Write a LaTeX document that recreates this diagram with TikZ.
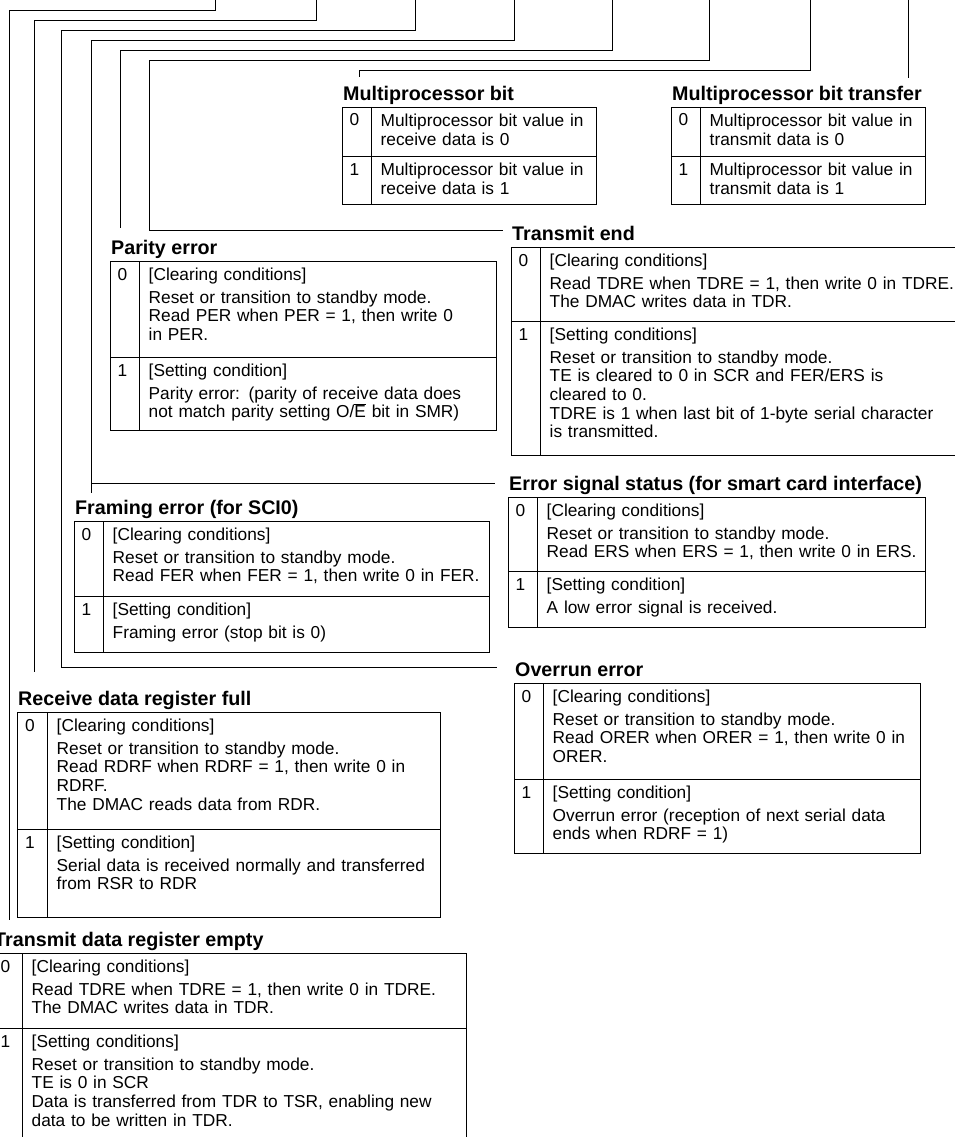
\documentclass[tikz,border=0pt]{standalone}
\usepackage{fontspec}
\setmainfont{Liberation Sans}
\newcommand{\bodyfont}{\fontsize{17.3}{18.6}\selectfont}
\newcommand{\ttlfont}{\fontsize{19.7}{22}\selectfont\bfseries}
\newcommand{\ovl}[1]{\ensuremath{\overline{\hbox{#1}}}}
\newcommand{\firststrut}{\rule{0pt}{14pt}}
\newcommand{\hgap}{\\[4.5pt]}
\tikzset{
  frame/.style={draw=black, line width=0.9pt},
  conn/.style={draw=black, line width=0.9pt},
  ttl/.style={font=\ttlfont, inner sep=0pt, anchor=base west},
  dig/.style={font=\bodyfont, inner sep=0pt, anchor=base},
  txt/.style={font=\bodyfont, inner sep=0pt, anchor=north west, text width=460pt, align=left},
}
% name, L, C, R, T, M, B, title
\newcommand{\regframe}[8]{%
  \node[ttl] (#1) at ({#2+1},{#5-6.5}) {#8};
  \draw[frame] (#2,#5) rectangle (#4,#7);
  \draw[frame] (#3,#5) -- (#3,#7);
  \draw[frame] (#2,#6) -- (#4,#6);
  \node[dig] (#1-d0) at ({#2+0.43*(#3-#2)},{#5+19}) {0};
  \node[dig] (#1-d1) at ({#2+0.43*(#3-#2)},{#6+19}) {1};
}
% name, C, T, M, text0, text1
\newcommand{\regrows}[6]{%
  \node[txt] (#1-r0) at ({#2+9.5},{#3+5}) {\firststrut#5};
  \node[txt] (#1-r1) at ({#2+9.5},{#4+5}) {\firststrut#6};
}
\begin{document}
\begin{tikzpicture}[x=1pt, y=-1pt]
\useasboundingbox (0,0) rectangle (955,1137);
\clip (0,0) rectangle (955,1137);

% ---- tables ----
\regframe{mpb}{342}{371}{596}{107}{156}{204}{Multiprocessor bit}
\regrows{mpb}{371}{107}{156}{Multiprocessor bit value in\\[0.6pt]receive data is 0}{Multiprocessor bit value in\\[0.6pt]receive data is 1}

\regframe{mpbt}{671}{700}{925}{107}{156}{204}{Multiprocessor bit transfer}
\regrows{mpbt}{700}{107}{156}{Multiprocessor bit value in\\[0.6pt]transmit data is 0}{Multiprocessor bit value in\\[0.6pt]transmit data is 1}

\regframe{per}{110}{139}{496}{261}{357}{430}{Parity error}
\regrows{per}{139}{261}{357}{[Clearing conditions]\hgap Reset or transition to standby mode.\\Read PER when PER = 1, then write 0\\in PER.}{[Setting condition]\hgap Parity error: (parity of receive data does\\not match parity setting O/\ovl{E} bit in SMR)}

\regframe{tend}{511}{540}{965}{247}{321}{455}{Transmit end}
\regrows{tend}{540}{247}{321}{[Clearing conditions]\hgap Read TDRE when TDRE = 1, then write 0 in TDRE.\\The DMAC writes data in TDR.}{[Setting conditions]\hgap Reset or transition to standby mode.\\TE is cleared to 0 in SCR and FER/ERS is\\cleared to 0.\\TDRE is 1 when last bit of 1-byte serial character\\is transmitted.}

\regframe{ers}{508}{537}{925}{497}{571}{627}{Error signal status (for smart card interface)}
\regrows{ers}{537}{497}{571}{[Clearing conditions]\hgap Reset or transition to standby mode.\\Read ERS when ERS = 1, then write 0 in ERS.}{[Setting condition]\hgap A low error signal is received.}

\regframe{fer}{74}{103}{489}{521}{596}{652}{Framing error (for SCI0)}
\regrows{fer}{103}{521}{596}{[Clearing conditions]\hgap Reset or transition to standby mode.\\Read FER when FER = 1, then write 0 in FER.}{[Setting condition]\hgap Framing error (stop bit is 0)}

\regframe{orer}{514}{543}{920}{683}{779}{853}{Overrun error}
\regrows{orer}{543}{683}{779}{[Clearing conditions]\hgap Reset or transition to standby mode.\\Read ORER when ORER = 1, then write 0 in\\ORER.}{[Setting condition]\hgap Overrun error (reception of next serial data\\ends when RDRF = 1)}

\regframe{rdrf}{17}{47}{440}{712}{829}{917}{Receive data register full}
\regrows{rdrf}{47}{712}{829}{[Clearing conditions]\hgap Reset or transition to standby mode.\\Read RDRF when RDRF = 1, then write 0 in\\RDRF.\\The DMAC reads data from RDR.}{[Setting condition]\hgap Serial data is received normally and transferred\\from RSR to RDR}

\regframe{tdre}{-7}{22}{466}{953}{1028}{1170}{Transmit data register empty}
\regrows{tdre}{22}{953}{1028}{[Clearing conditions]\hgap Read TDRE when TDRE = 1, then write 0 in TDRE.\\The DMAC writes data in TDR.}{[Setting conditions]\hgap Reset or transition to standby mode.\\TE is 0 in SCR\\Data is transferred from TDR to TSR, enabling new\\data to be written in TDR.}

% ---- connectors from the register bits above ----
\coordinate (topA) at (215,-5);
\coordinate (topB) at (316,-5);
\coordinate (topC) at (415,-5);
\coordinate (topD) at (514,-5);
\coordinate (topE) at (612,-5);
\coordinate (topF) at (709,-5);
\coordinate (topG) at (810,-5);
\coordinate (topH) at (908,-5);

\coordinate (bendA) at (9,10);
\coordinate (endA) at (9,920);
\coordinate (bendB) at (34,20);
\coordinate (endB) at (34,672);
\coordinate (bendC) at (61,30);
\coordinate (cornC) at (61,667);
\coordinate (endC) at (497,667);
\coordinate (bendD) at (91,40);
\coordinate (endD) at (91,493);
\coordinate (brD) at (91,483);
\coordinate (endD2) at (495,483);
\coordinate (bendE) at (120,50);
\coordinate (endE) at (120,228);
\coordinate (bendF) at (149,60);
\coordinate (cornF) at (149,230);
\coordinate (endF) at (503,230);
\coordinate (bendG) at (359,70);
\coordinate (endG) at (359,77);
\coordinate (endH) at (908,78);

\draw[conn] (topA) |- (bendA) -- (endA);
\draw[conn] (topB) |- (bendB) -- (endB);
\draw[conn] (topC) |- (bendC) -- (cornC) -- (endC);
\draw[conn] (topD) |- (bendD) -- (endD);
\draw[conn] (brD) -- (endD2);
\draw[conn] (topE) |- (bendE) -- (endE);
\draw[conn] (topF) |- (bendF) -- (cornF) -- (endF);
\draw[conn] (topG) |- (bendG) -- (endG);
\draw[conn] (topH) -- (endH);
\end{tikzpicture}
\end{document}
